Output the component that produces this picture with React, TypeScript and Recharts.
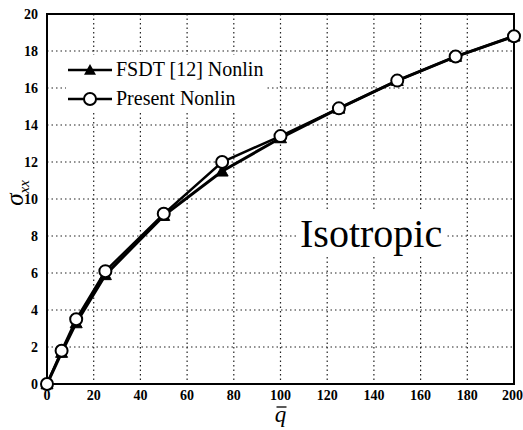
import React from "react";
import { LineChart, Line, XAxis, YAxis, CartesianGrid, ReferenceArea } from "recharts";

const qValues = [0, 6.25, 12.5, 25, 50, 75, 100, 125, 150, 175, 200];
const fsdtValues = [0, 1.7, 3.3, 5.9, 9.1, 11.5, 13.3, 14.9, 16.4, 17.7, 18.8];
const presentValues = [0, 1.8, 3.5, 6.1, 9.2, 12.0, 13.4, 14.9, 16.4, 17.7, 18.8];
const xTicks = [0, 20, 40, 60, 80, 100, 120, 140, 160, 180, 200];
const yTicks = [0, 2, 4, 6, 8, 10, 12, 14, 16, 18, 20];
const seriesNames = ["FSDT [12] Nonlin", "Present Nonlin"];

const data = qValues.map((q, i) => ({ q, fsdt: fsdtValues[i], present: presentValues[i] }));

const FONT = '"Liberation Serif", serif';

const Triangle = (props: any) => {
  const { cx, cy } = props;
  if (cx == null || cy == null) return null;
  const s = 6;
  return <path d={`M${cx},${cy - s} L${cx + s},${cy + s * 0.8} L${cx - s},${cy + s * 0.8} Z`} fill="#000" stroke="#000" />;
};

const Circle = (props: any) => {
  const { cx, cy } = props;
  if (cx == null || cy == null) return null;
  return <circle cx={cx} cy={cy} r={6} fill="#fff" stroke="#000" strokeWidth={2} />;
};

const LegendBox = () => (
  <div style={{ position: "absolute", left: 66, top: 55, fontFamily: FONT, fontSize: 20, color: "#000", background: "#fff", paddingRight: 4 }}>
    {seriesNames.map((n, i) => (
      <div key={n} style={{ display: "flex", alignItems: "center", height: 29 }}>
        <svg width={48} height={20}>
          <line x1={2} y1={10} x2={46} y2={10} stroke="#000" strokeWidth={2.5} />
          {i === 0 ? (
            <path d="M24,4 L30,14.8 L18,14.8 Z" fill="#000" />
          ) : (
            <circle cx={24} cy={10} r={6} fill="#fff" stroke="#000" strokeWidth={2} />
          )}
        </svg>
        <span style={{ marginLeft: 2 }}>{n}</span>
      </div>
    ))}
  </div>
);

const YLabel = (props: any) => {
  const { viewBox } = props;
  const x = 23;
  const y = viewBox.y + viewBox.height / 2 - 6;
  return (
    <text transform={`translate(${x},${y}) rotate(-90)`} textAnchor="middle" fontFamily={FONT} fontStyle="italic" fontSize={25} fill="#000">
      σ<tspan fontSize={15} dy={6}>xx</tspan>
    </text>
  );
};

const XLabel = (props: any) => {
  const { viewBox } = props;
  const x = viewBox.x + viewBox.width / 2;
  const y = 422;
  return (
    <g>
      <text x={x} y={y} textAnchor="middle" fontFamily={FONT} fontStyle="italic" fontSize={23} fill="#000">q</text>
      <line x1={x - 4} x2={x + 6} y1={y - 15} y2={y - 15} stroke="#000" strokeWidth={1.3} />
    </g>
  );
};

export default function App() {
  return (
    <div style={{ position: "absolute", left: 0, top: 0, width: 523, height: 430, background: "#fff" }}>
      <LineChart width={523} height={430} data={data} margin={{ top: 14, right: 9, bottom: 16, left: 17 }}>
        <CartesianGrid stroke="#222" strokeDasharray="1.5 3" strokeWidth={1.2} />
        <XAxis
          dataKey="q"
          type="number"
          domain={[0, 200]}
          ticks={xTicks}
          height={30}
          tickLine={false}
          axisLine={{ stroke: "#000", strokeWidth: 2 }}
          tick={{ fill: "#000", fontSize: 14, fontFamily: FONT, fontWeight: "bold" }}
          tickMargin={0}
          label={<XLabel />}
        />
        <YAxis
          type="number"
          domain={[0, 20]}
          ticks={yTicks}
          width={30}
          tickLine={false}
          axisLine={{ stroke: "#000", strokeWidth: 2 }}
          tick={{ fill: "#000", fontSize: 14, fontFamily: FONT, fontWeight: "bold" }}
          tickMargin={3}
          label={<YLabel />}
        />
        <ReferenceArea x1={0} x2={200} y1={0} y2={20} fill="none" stroke="#000" strokeWidth={2} ifOverflow="visible" />
        <Line dataKey="fsdt" name={seriesNames[0]} stroke="#000" strokeWidth={3} dot={<Triangle />} isAnimationActive={false} />
        <Line dataKey="present" name={seriesNames[1]} stroke="#000" strokeWidth={2.5} dot={<Circle />} isAnimationActive={false} />
      </LineChart>
      <LegendBox />
      <div style={{ position: "absolute", left: 296, top: 211, fontFamily: FONT, fontSize: 40, color: "#000", background: "#fff", padding: "0 4px", lineHeight: "46px" }}>
        Isotropic
      </div>
    </div>
  );
}
